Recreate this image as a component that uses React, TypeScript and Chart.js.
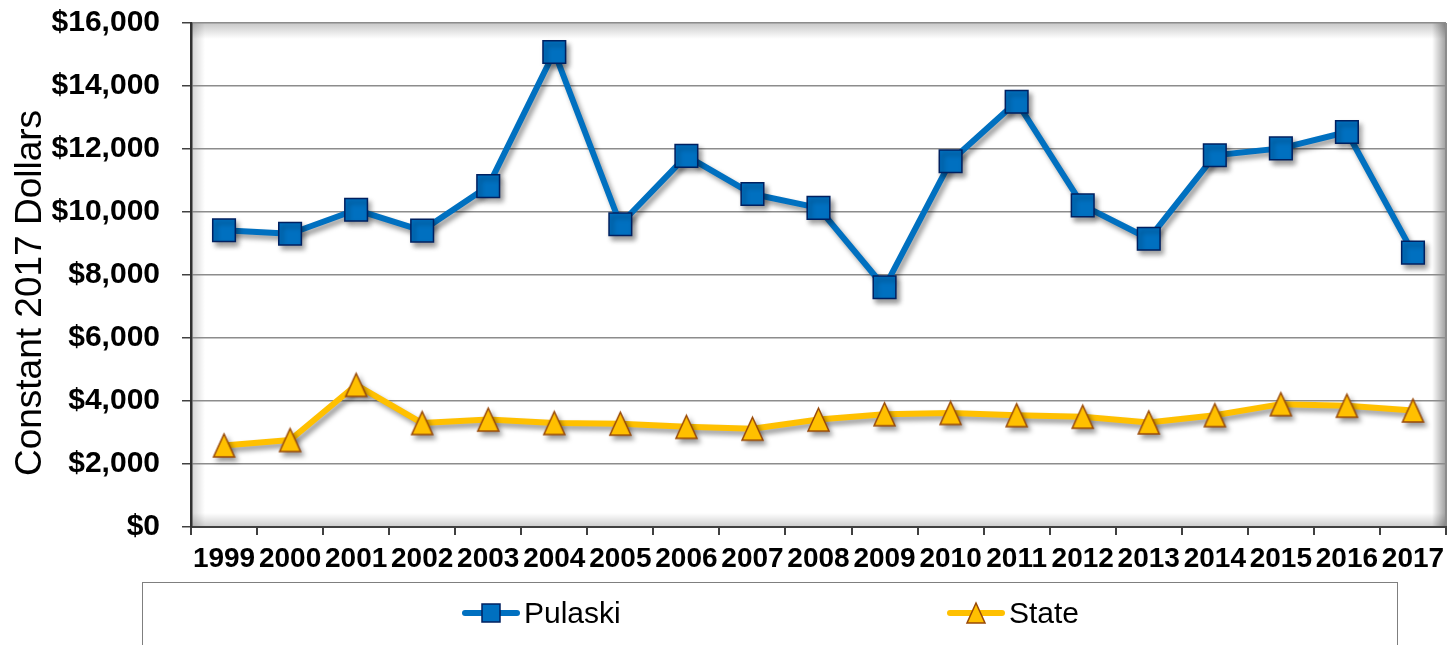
import React, { useEffect, useRef } from 'react';
import { Chart, registerables } from 'chart.js';

Chart.register(...registerables);

const FONT = '"Liberation Sans", Arial, Helvetica, sans-serif';

const years = ['1999', '2000', '2001', '2002', '2003', '2004', '2005', '2006', '2007', '2008', '2009', '2010', '2011', '2012', '2013', '2014', '2015', '2016', '2017'];
const pulaskiValues = [9420, 9310, 10070, 9410, 10820, 15080, 9610, 11780, 10570, 10130, 7610, 11610, 13500, 10210, 9150, 11800, 12020, 12540, 8710];
const stateValues = [2590, 2760, 4510, 3300, 3410, 3300, 3280, 3180, 3120, 3410, 3580, 3620, 3550, 3500, 3320, 3550, 3900, 3850, 3700];
const seriesNames = ['Pulaski', 'State'];
const yAxisTitle = 'Constant 2017 Dollars';
const yMin = 0;
const yMax = 16000;
const yStep = 2000;

const BLUE = '#0070C0';
const BLUE_EDGE = '#002060';
const GOLD = '#FFC000';
const GOLD_EDGE = '#984807';

const PLOT_TOP = 23;
const PLOT_BOTTOM = 527;
const PLOT_LEFT = 191;

function makeTriangle(w: number, h: number, lw: number): HTMLCanvasElement {
  const c = document.createElement('canvas');
  const pad = Math.ceil(lw) + 1;
  c.width = Math.ceil(w + pad * 2);
  c.height = Math.ceil(h + pad * 2);
  const ctx = c.getContext('2d')!;
  ctx.beginPath();
  ctx.moveTo(c.width / 2, pad);
  ctx.lineTo(c.width / 2 + w / 2, pad + h);
  ctx.lineTo(c.width / 2 - w / 2, pad + h);
  ctx.closePath();
  ctx.fillStyle = GOLD;
  ctx.fill();
  ctx.lineWidth = lw;
  ctx.strokeStyle = GOLD_EDGE;
  ctx.lineJoin = 'miter';
  ctx.stroke();
  return c;
}

const frameBackground = {
  id: 'frameBackground',
  beforeDraw(chart: any) {
    const { ctx, chartArea: a, width, height } = chart;
    ctx.save();
    ctx.fillStyle = '#ffffff';
    ctx.fillRect(0, 0, width, height);
    let g = ctx.createLinearGradient(0, a.top, 0, a.top + 16);
    g.addColorStop(0, 'rgba(0,0,0,0.22)');
    g.addColorStop(1, 'rgba(0,0,0,0)');
    ctx.fillStyle = g;
    ctx.fillRect(a.left, a.top, a.right - a.left, 16);
    g = ctx.createLinearGradient(a.left, 0, a.left + 14, 0);
    g.addColorStop(0, 'rgba(0,0,0,0.18)');
    g.addColorStop(1, 'rgba(0,0,0,0)');
    ctx.fillStyle = g;
    ctx.fillRect(a.left, a.top, 14, a.bottom - a.top);
    g = ctx.createLinearGradient(a.right - 14, 0, a.right, 0);
    g.addColorStop(0, 'rgba(0,0,0,0)');
    g.addColorStop(1, 'rgba(0,0,0,0.38)');
    ctx.fillStyle = g;
    ctx.fillRect(a.right - 14, a.top, 14, a.bottom - a.top);
    g = ctx.createLinearGradient(0, a.bottom - 14, 0, a.bottom);
    g.addColorStop(0, 'rgba(0,0,0,0)');
    g.addColorStop(1, 'rgba(0,0,0,0.2)');
    ctx.fillStyle = g;
    ctx.fillRect(a.left, a.bottom - 14, a.right - a.left, 14);
    ctx.strokeStyle = '#8c8c8c';
    ctx.lineWidth = 2;
    ctx.beginPath();
    ctx.moveTo(a.right, a.top);
    ctx.lineTo(a.right, a.bottom);
    ctx.stroke();
    ctx.restore();
  },
};

const markerShadow = {
  id: 'markerShadow',
  beforeDatasetsDraw(chart: any) {
    const ctx = chart.ctx;
    ctx.save();
    ctx.shadowColor = 'rgba(0,0,0,0.4)';
    ctx.shadowBlur = 5;
    ctx.shadowOffsetX = 3;
    ctx.shadowOffsetY = 4;
  },
  afterDatasetsDraw(chart: any) {
    chart.ctx.restore();
  },
};

const titleAndLegend = {
  id: 'titleAndLegend',
  afterDraw(chart: any) {
    const { ctx } = chart;
    ctx.save();
    ctx.translate(31, (PLOT_TOP + PLOT_BOTTOM) / 2 + 18);
    ctx.rotate(-Math.PI / 2);
    ctx.font = `37px ${FONT}`;
    ctx.fillStyle = '#000';
    ctx.textAlign = 'center';
    ctx.textBaseline = 'middle';
    ctx.fillText(yAxisTitle, 0, 0);
    ctx.restore();

    ctx.save();
    const boxL = 142.5;
    const boxT = 582.5;
    const boxR = 1397.5;
    ctx.strokeStyle = '#7f7f7f';
    ctx.lineWidth = 1;
    ctx.strokeRect(boxL, boxT, boxR - boxL, 80);

    const ly = 613;
    const items = [
      { x: 462, name: seriesNames[0], color: BLUE },
      { x: 947, name: seriesNames[1], color: GOLD },
    ];
    items.forEach((it, i) => {
      ctx.strokeStyle = it.color;
      ctx.lineWidth = 6;
      ctx.lineCap = 'round';
      ctx.beginPath();
      ctx.moveTo(it.x + 3, ly);
      ctx.lineTo(it.x + 55, ly);
      ctx.stroke();
      const cx = it.x + 29;
      if (i === 0) {
        ctx.fillStyle = BLUE;
        ctx.fillRect(cx - 9, ly - 9, 18, 18);
        ctx.strokeStyle = BLUE_EDGE;
        ctx.lineWidth = 1.5;
        ctx.strokeRect(cx - 9, ly - 9, 18, 18);
      } else {
        ctx.beginPath();
        ctx.moveTo(cx, ly - 10);
        ctx.lineTo(cx + 9, ly + 10);
        ctx.lineTo(cx - 9, ly + 10);
        ctx.closePath();
        ctx.fillStyle = GOLD;
        ctx.fill();
        ctx.strokeStyle = GOLD_EDGE;
        ctx.lineWidth = 1.5;
        ctx.stroke();
      }
      ctx.fillStyle = '#000';
      ctx.font = `30px ${FONT}`;
      ctx.textAlign = 'left';
      ctx.textBaseline = 'middle';
      ctx.fillText(it.name, it.x + 62, ly + 2);
    });
    ctx.restore();
  },
};

export default function App() {
  const ref = useRef<HTMLCanvasElement | null>(null);

  useEffect(() => {
    if (!ref.current) return;
    const tri = makeTriangle(21, 23, 1.5);
    const chart = new Chart(ref.current, {
      type: 'line',
      data: {
        labels: years,
        datasets: [
          {
            label: seriesNames[0],
            data: pulaskiValues,
            borderColor: BLUE,
            backgroundColor: BLUE,
            borderWidth: 6,
            borderJoinStyle: 'round',
            tension: 0,
            pointStyle: 'rect',
            pointRadius: 16,
            pointBackgroundColor: BLUE,
            pointBorderColor: BLUE_EDGE,
            pointBorderWidth: 1.5,
            clip: false,
          },
          {
            label: seriesNames[1],
            data: stateValues,
            borderColor: GOLD,
            backgroundColor: GOLD,
            borderWidth: 6,
            borderJoinStyle: 'round',
            tension: 0,
            pointStyle: tri,
            pointRadius: 12,
            clip: false,
          },
        ],
      },
      options: {
        responsive: false,
        animation: false,
        devicePixelRatio: 1,
        layout: { autoPadding: false, padding: { top: PLOT_TOP, right: 2, left: 0, bottom: 0 } },
        plugins: {
          legend: { display: false },
          tooltip: { enabled: false },
          title: { display: false },
        },
        scales: {
          x: {
            type: 'category',
            offset: true,
            grid: {
              display: true,
              drawOnChartArea: false,
              offset: true,
              drawTicks: true,
              tickLength: 8,
              tickColor: '#404040',
              lineWidth: 2,
            },
            border: { display: true, color: '#404040', width: 2 },
            ticks: {
              color: '#000',
              font: { family: FONT, size: 28, weight: 'bold' },
              padding: 7,
              maxRotation: 0,
              minRotation: 0,
              autoSkip: false,
            },
            afterFit: (s: any) => {
              s.height = 645 - PLOT_BOTTOM;
              s.paddingLeft = 0;
              s.paddingRight = 0;
            },
          },
          y: {
            min: yMin,
            max: yMax,
            ticks: {
              stepSize: yStep,
              color: '#000',
              font: { family: FONT, size: 30, weight: 'bold' },
              padding: 22,
              callback: (v: any) => '$' + Number(v).toLocaleString('en-US'),
            },
            grid: {
              color: (c: any) => (c.tick && c.tick.value === yMin ? 'rgba(0,0,0,0)' : '#8c8c8c'),
              lineWidth: 1.5,
              drawTicks: true,
              tickLength: 9,
              tickColor: '#404040',
            },
            border: { display: true, color: '#303030', width: 2.5 },
            afterFit: (s: any) => {
              s.width = PLOT_LEFT;
              s.paddingTop = 0;
              s.paddingBottom = 0;
            },
          },
        },
      },
      plugins: [frameBackground, markerShadow, titleAndLegend],
    } as any);
    return () => chart.destroy();
  }, []);

  return (
    <div style={{ position: 'fixed', left: 0, top: 0, width: 1448, height: 645, background: '#fff' }}>
      <canvas ref={ref} width={1448} height={645} style={{ display: 'block', width: 1448, height: 645 }} />
    </div>
  );
}
